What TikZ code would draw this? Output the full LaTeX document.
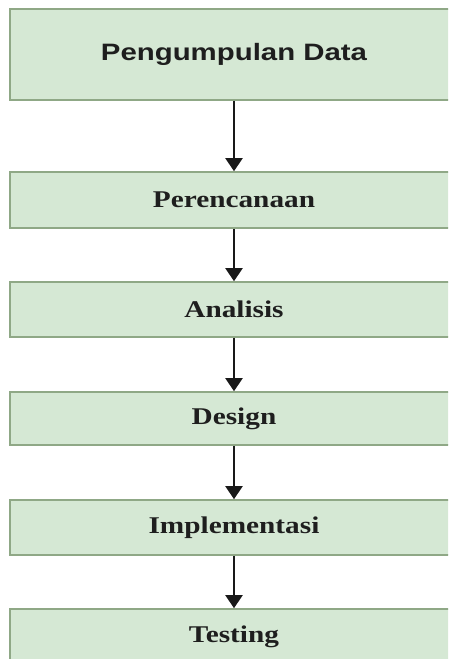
\documentclass[tikz,border=0pt]{standalone}
\usepackage{fontspec}
\setmainfont{Liberation Serif}
\setsansfont{Liberation Sans}
\usetikzlibrary{arrows.meta}
\definecolor{boxfill}{HTML}{D5E8D4}
\definecolor{boxline}{HTML}{8FA886}
\definecolor{txt}{HTML}{1E1E1E}
\tikzset{
  stepbox/.style={rectangle, fill=boxfill, draw=boxline, line width=1.6pt,
    minimum width=448pt, inner sep=0pt, text=txt,
    font=\fontsize{24pt}{28pt}\selectfont\bfseries},
  firstbox/.style={stepbox, font=\fontsize{23.7pt}{28pt}\selectfont\sffamily\bfseries},
  arr/.style={draw=black!90, line width=2pt,
    -{Triangle[width=17pt,length=13pt]}}
}
\begin{document}
\begin{tikzpicture}[x=1pt,y=-1pt]
\useasboundingbox (0,0) rectangle (448,659);
\clip (0,0) rectangle (448,659);
\fill[white] (0,0) rectangle (448,659);
\node[firstbox, minimum height=91pt] (b1) at (234,54.5) {\scalebox{1.24}[1]{Pengumpulan Data}};
\node[stepbox, minimum height=56pt] (b2) at (234,200) {\scalebox{1.22}[1]{Perencanaan}};
\node[stepbox, minimum height=55pt] (b3) at (234,309.5) {\scalebox{1.22}[1]{Analisis}};
\node[stepbox, minimum height=53pt] (b4) at (234,418.5) {\scalebox{1.22}[1]{Design}};
\node[stepbox, minimum height=55pt] (b5) at (234,527.5) {\scalebox{1.22}[1]{Implementasi}};
\node[stepbox, minimum height=55pt] (b6) at (234,636.5) {\scalebox{1.22}[1]{Testing}};
\draw[arr] (b1.south) -- (b2.north);
\draw[arr] (b2.south) -- (b3.north);
\draw[arr] (b3.south) -- (b4.north);
\draw[arr] (b4.south) -- (b5.north);
\draw[arr] (b5.south) -- (b6.north);
\end{tikzpicture}
\end{document}
